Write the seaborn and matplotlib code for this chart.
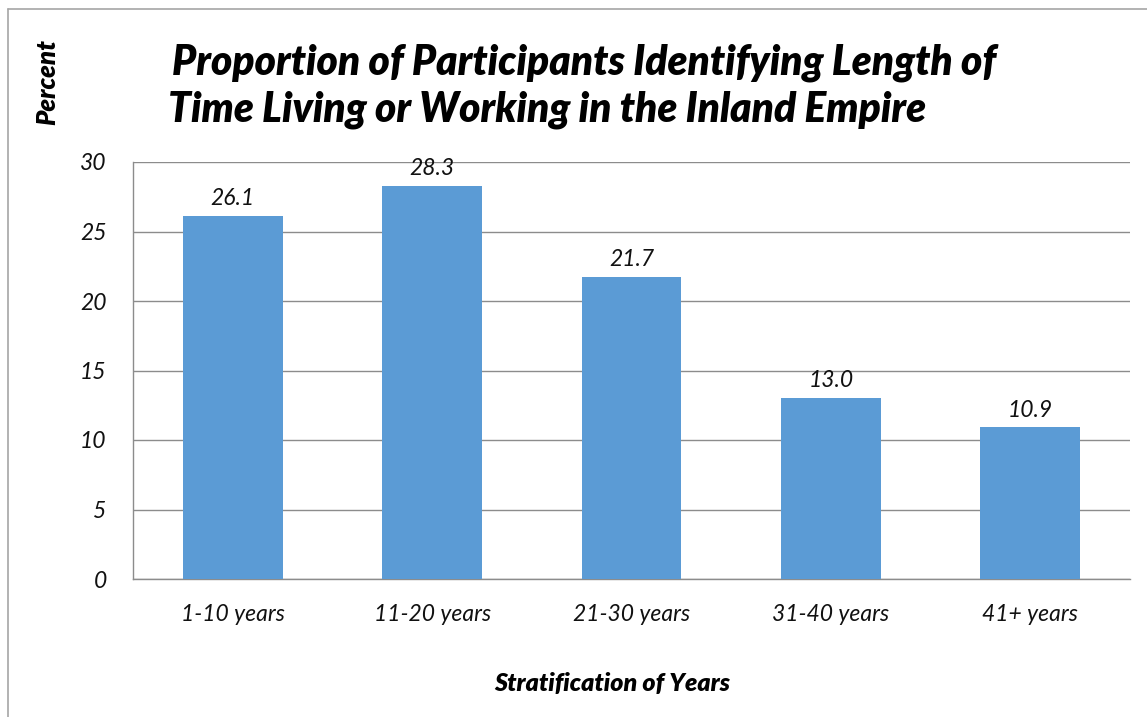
import matplotlib
matplotlib.use("Agg")
import matplotlib.pyplot as plt
import seaborn as sns
import pandas as pd
from matplotlib.lines import Line2D

categories = ["1-10 years", "11-20 years", "21-30 years", "31-40 years", "41+ years"]
percent = [26.1, 28.3, 21.7, 13.0, 10.9]
yticks = [0, 5, 10, 15, 20, 25, 30]

sns.set_theme(style="white")
plt.rcParams['font.family'] = ['Lato', 'DejaVu Sans']

W, H = 1147, 717
fig = plt.figure(figsize=(W / 100, H / 100), dpi=100)
ax = fig.add_axes([133 / W, 1 - 579 / H, (1130 - 133) / W, (579 - 162) / H])

df = pd.DataFrame({"cat": categories, "val": percent})
sns.barplot(data=df, x="cat", y="val", color="#5B9BD5", saturation=1, width=0.5, ax=ax, zorder=3,
            linewidth=0, edgecolor="none")

ax.set_ylim(0, 30)
ax.set_xlim(-0.5, 4.5)
ax.set_yticks(yticks)
ax.yaxis.grid(True, color="#8C8C8C", linewidth=1.0, zorder=0)
for s in ["top", "right"]:
    ax.spines[s].set_visible(False)
ax.spines["left"].set_color("#8C8C8C")
ax.spines["bottom"].set_color("#8C8C8C")
ax.spines["left"].set_linewidth(1.0)
ax.spines["bottom"].set_linewidth(1.0)
ax.tick_params(axis="both", length=0, labelsize=16.5)
ax.tick_params(axis="y", pad=19)
ax.tick_params(axis="x", pad=18)
for t in ax.get_xticklabels() + ax.get_yticklabels():
    t.set_fontstyle("italic")
    t.set_color("#111111")
ax.set_xlabel("")
ax.set_ylabel("")

for i, v in enumerate(percent):
    ax.text(i, v + 0.5, f"{v:.1f}", ha="center", va="bottom", fontsize=16.5, fontstyle="italic", color="#111111")

fig.text(172 / W, 1 - 63 / H, "Proportion of Participants Identifying Length of", ha="left", va="center",
         fontsize=29.2, fontweight="heavy", fontstyle="italic", color="black")
fig.text(168 / W, 1 - 110 / H, "Time Living or Working in the Inland Empire", ha="left", va="center",
         fontsize=29.2, fontweight="heavy", fontstyle="italic", color="black")
fig.text(47 / W, 1 - 82 / H, "Percent", rotation=90, ha="center", va="center",
         fontsize=18.5, fontweight="heavy", fontstyle="italic", color="black")
fig.text(612 / W, 1 - 683 / H, "Stratification of Years", ha="center", va="center",
         fontsize=18, fontweight="heavy", fontstyle="italic", color="black")

fig.add_artist(Line2D([8 / W, 8 / W], [0, 1 - 9 / H], transform=fig.transFigure, color="#A6A6A6", linewidth=1.2))
fig.add_artist(Line2D([8 / W, 1], [1 - 9 / H, 1 - 9 / H], transform=fig.transFigure, color="#A6A6A6", linewidth=1.2))

fig.savefig("out.png", dpi=100)
